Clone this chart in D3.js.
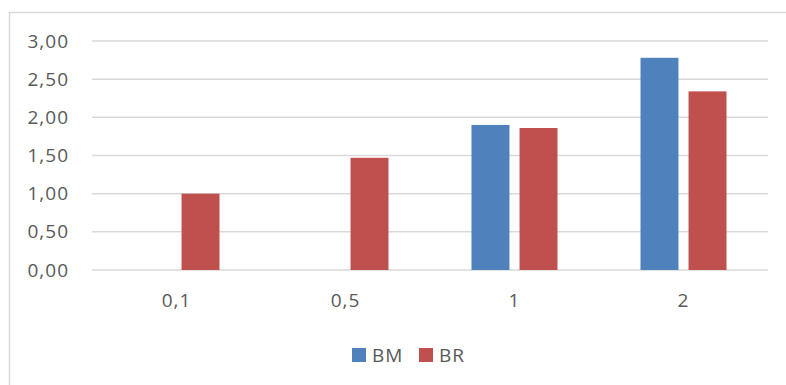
<!DOCTYPE html>
<html>
<head>
<meta charset="utf-8">
<script src="https://cdn.jsdelivr.net/npm/d3@7"></script>
<style>
  html, body { margin: 0; padding: 0; background: #fff; }
  svg { display: block; }
  text { font-family: "Open Sans", "Noto Sans", sans-serif; fill: #595959; letter-spacing: 1px; }
</style>
</head>
<body>
<svg id="chart" width="786" height="385"></svg>
<script>
// Chart data
const categories = ["0,1", "0,5", "1", "2"];
const seriesNames = ["BM", "BR"];
const bmValues = [null, null, 1.90, 2.78];
const brValues = [1.00, 1.47, 1.86, 2.34];
const yTicks = [0, 0.5, 1, 1.5, 2, 2.5, 3];
const colors = ["#4F81BD", "#C0504D"];

const svg = d3.select("#chart");
const W = 786, H = 385;

// Outer frame (top and left edges visible)
svg.append("rect")
  .attr("x", 9.5).attr("y", 12.5)
  .attr("width", W).attr("height", H)
  .attr("fill", "none").attr("stroke", "#D9D9D9").attr("stroke-width", 1.5);

const plot = { left: 92, right: 768, top: 41, bottom: 270 };

const x = d3.scaleBand().domain(categories).range([plot.left, plot.right]);
const y = d3.scaleLinear().domain([0, 3]).range([plot.bottom, plot.top]);
const inner = d3.scaleBand().domain(seriesNames).range([-43, 43]).paddingInner(0.21);

// Gridlines
svg.append("g").selectAll("line").data(yTicks).join("line")
  .attr("x1", plot.left).attr("x2", plot.right)
  .attr("y1", d => y(d)).attr("y2", d => y(d))
  .attr("stroke", "#D9D9D9").attr("stroke-width", 1.5);

// Y axis labels
const fmt = d => d.toFixed(2).replace(".", ",");
svg.append("g").selectAll("text").data(yTicks).join("text")
  .attr("x", 69).attr("y", d => y(d))
  .attr("dy", "0.35em")
  .attr("text-anchor", "end")
  .attr("font-size", 19)
  .text(fmt);

// X axis labels
svg.append("g").selectAll("text").data(categories).join("text")
  .attr("x", d => x(d) + x.bandwidth() / 2)
  .attr("y", 307)
  .attr("text-anchor", "middle")
  .attr("font-size", 19)
  .text(d => d);

// Bars
const rows = [];
categories.forEach((c, i) => {
  [bmValues, brValues].forEach((arr, s) => {
    if (arr[i] != null) rows.push({ cat: c, series: seriesNames[s], value: arr[i], color: colors[s] });
  });
});
svg.append("g").selectAll("rect").data(rows).join("rect")
  .attr("x", d => x(d.cat) + x.bandwidth() / 2 + inner(d.series))
  .attr("width", inner.bandwidth())
  .attr("y", d => y(d.value))
  .attr("height", d => y(0) - y(d.value))
  .attr("fill", d => d.color);

// Legend
const legend = svg.append("g");
const legendItems = [
  { name: seriesNames[0], color: colors[0], x: 352 },
  { name: seriesNames[1], color: colors[1], x: 419 }
];
legendItems.forEach(it => {
  legend.append("rect").attr("x", it.x).attr("y", 348).attr("width", 14).attr("height", 14).attr("fill", it.color);
  legend.append("text").attr("x", it.x + 20).attr("y", 362).attr("font-size", 19).text(it.name);
});
</script>
</body>
</html>
